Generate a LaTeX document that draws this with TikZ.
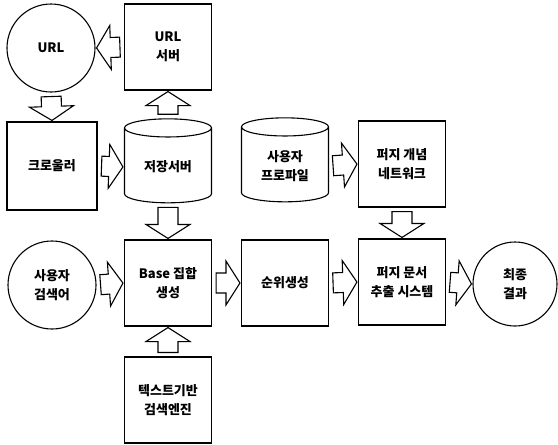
\documentclass[tikz,border=0pt]{standalone}
\usepackage{fontspec}
\setmainfont{Noto Sans CJK KR}
\usetikzlibrary{positioning,shapes.geometric,calc}

% 속이 빈 굵은 화살표
\newcommand{\blockarrow}[2]{%
  \coordinate (ba s) at ($(#1)!4pt!(#2)$);
  \coordinate (ba e) at ($(#2)!1pt!(#1)$);
  \coordinate (ba h) at ($(ba e)!14pt!(ba s)$);
  \draw[hollow] ($(ba s)!10pt!90:(ba e)$) -- ($(ba h)!10pt!90:(ba e)$)
    -- ($(ba h)!22pt!90:(ba e)$) -- (ba e) -- ($(ba h)!22pt!-90:(ba e)$)
    -- ($(ba h)!10pt!-90:(ba e)$) -- ($(ba s)!10pt!-90:(ba e)$) -- cycle;
}

\begin{document}
\begin{tikzpicture}[x=1pt,y=-1pt,line width=1.1pt,
  every node/.style={font=\fontsize{13}{19}\selectfont\bfseries, align=center},
  box/.style={draw, minimum width=87pt, minimum height=86pt, inner sep=2pt},
  ball/.style={draw, circle, minimum size=88pt, inner sep=0pt},
  drum/.style={draw, cylinder, shape border rotate=90, aspect=0.35,
    minimum width=87pt, minimum height=84pt, inner sep=2pt},
  hollow/.style={draw, line join=miter}]
\useasboundingbox (0,0) rectangle (558,445);

% 1행
\node[ball] (url) at (51,48) {URL};
\node[box] (urlsrv) at (168,47) {URL\\서버};

% 2행
\node[box, minimum width=90pt, minimum height=88pt] (crawl) at (52,166) {크로울러};
\node[drum] (store) at (168,167) {저장서버};
\node[drum] (profile) at (285,166) {사용자\\프로파일};
\node[box] (fzcon) at (402,164) {퍼지 개념\\네트워크};

% 3행
\node[ball] (query) at (52,285) {사용자\\검색어};
\node[box] (base) at (168,283) {Base 집합\\생성};
\node[box] (rank) at (285,283) {순위생성};
\node[box] (fzdoc) at (402,282) {퍼지 문서\\추출 시스템};
\node[ball, minimum size=84pt] (final) at (515,284) {최종\\결과};

% 4행
\node[box] (search) at (168,400) {텍스트기반\\검색엔진};

% 화살표
\blockarrow{urlsrv.west}{url.east}
\blockarrow{url.south}{crawl.north}
\blockarrow{crawl.east}{store.west}
\blockarrow{store.north}{urlsrv.south}
\blockarrow{profile.east}{fzcon.west}
\blockarrow{fzcon.south}{fzdoc.north}
\blockarrow{store.south}{base.north}
\blockarrow{query.east}{base.west}
\blockarrow{base.east}{rank.west}
\blockarrow{rank.east}{fzdoc.west}
\blockarrow{fzdoc.east}{final.west}
\blockarrow{search.north}{base.south}
\end{tikzpicture}
\end{document}
